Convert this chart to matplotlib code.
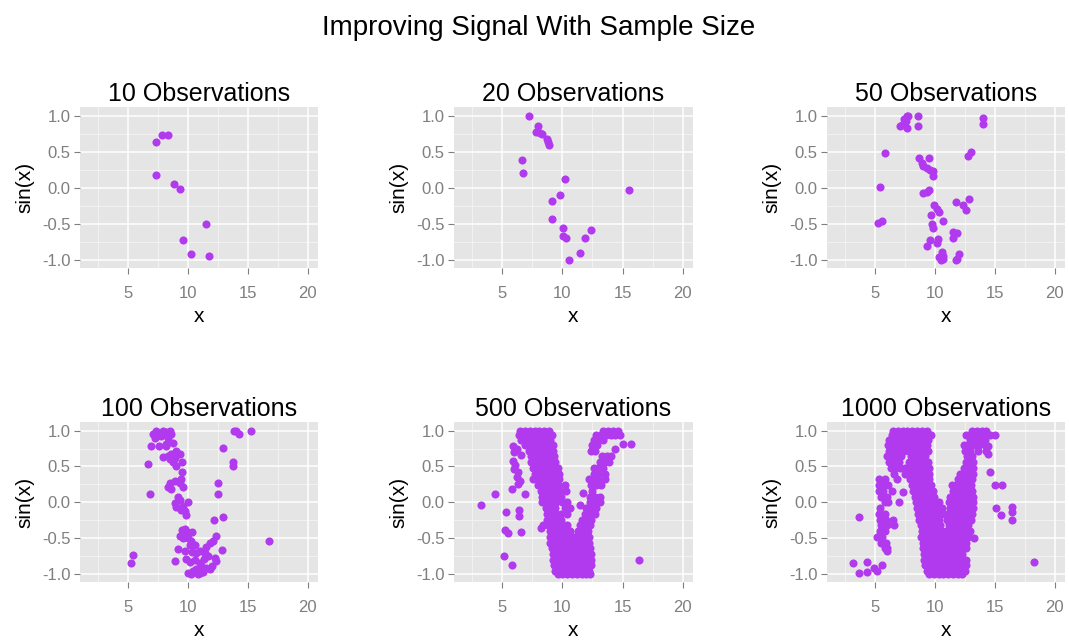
import numpy as np
import matplotlib; matplotlib.use("Agg")
import matplotlib.pyplot as plt

plt.rcParams["font.family"] = ["Liberation Sans", "DejaVu Sans"]
plt.rcParams["axes.unicode_minus"] = False

# -------- data --------
x10 = [7.36, 7.83, 8.33, 7.36, 8.83, 9.33, 11.47, 9.58, 10.22, 11.75]
y10 = [0.63, 0.73, 0.73, 0.18, 0.06, -0.01, -0.50, -0.72, -0.92, -0.94]

x20 = [7.22, 7.97, 7.78, 8.11, 8.33, 8.69, 8.81, 8.92, 6.61, 6.75, 10.25,
       9.81, 9.17, 9.17, 10.06, 10.06, 10.33, 12.36, 11.89, 11.44, 10.56, 15.56]
y20 = [1.0, 0.85, 0.78, 0.76, 0.74, 0.68, 0.63, 0.60, 0.39, 0.20, 0.12,
       -0.10, -0.18, -0.43, -0.55, -0.66, -0.70, -0.58, -0.70, -0.90, -1.0, -0.03]

x50 = [7.64, 7.44, 7.28, 7.08, 7.69, 7.58, 7.78, 8.61, 8.61, 14.03, 14.03,
       5.83, 5.42, 5.22, 5.61, 8.69, 8.89, 9.03, 9.31, 9.5, 9.58, 9.81, 9.81,
       9.03, 9.31, 9.53, 12.78, 13.0, 9.92, 10.14, 10.31, 9.64, 9.75, 9.86,
       10.69, 11.75, 12.36, 12.58, 12.86, 11.53, 11.81, 11.47, 10.28, 10.14,
       9.58, 9.31, 10.56, 10.69, 10.36, 10.5, 10.69, 12.03, 11.86, 11.75]
y50 = [1.0, 0.96, 0.87, 0.86, 0.83, 0.92, 0.99, 1.0, 0.86, 0.97, 0.89,
       0.48, 0.01, -0.49, -0.46, 0.41, 0.35, 0.30, 0.28, 0.41, 0.25, 0.23, 0.16,
       -0.07, -0.06, -0.03, 0.44, 0.49, -0.24, -0.29, -0.33, -0.37, -0.50, -0.56,
       -0.46, -0.19, -0.24, -0.30, -0.16, -0.61, -0.63, -0.69, -0.71, -0.76,
       -0.72, -0.80, -0.89, -0.94, -0.96, -1.0, -0.99, -0.92, -0.99, -1.0]

pts100 = [
    (7.08, 0.95), (7.36, 1.0), (7.58, 0.95), (7.92, 1.0), (8.19, 0.98), (8.47, 1.0),
    (8.61, 0.95), (8.33, 0.90), (8.75, 0.83), (8.19, 0.81), (7.78, 0.92), (7.22, 0.90),
    (6.94, 0.78), (7.58, 0.78), (8.19, 0.78),
    (7.92, 0.63), (8.33, 0.65), (8.61, 0.68), (9.03, 0.72), (8.89, 0.62), (8.75, 0.56),
    (9.03, 0.51), (9.31, 0.67), (9.53, 0.56), (8.53, 0.60),
    (6.68, 0.54), (6.82, 0.12),
    (9.53, 0.42), (9.44, 0.33), (9.31, 0.27), (8.89, 0.30), (8.47, 0.27), (8.33, 0.22),
    (8.61, 0.18), (9.58, 0.21),
    (9.17, 0.08), (9.31, 0.03), (8.89, -0.01), (9.03, -0.06), (9.58, -0.05), (10.0, 0.01),
    (9.44, -0.11), (9.86, -0.18), (9.72, -0.12),
    (12.96, 0.76), (13.82, 1.0), (14.03, 0.99), (14.3, 0.95), (15.28, 0.99),
    (13.74, 0.56), (13.74, 0.51), (12.48, 0.27), (12.48, 0.12), (12.96, -0.21),
    (12.2, -0.25), (16.76, -0.54), (5.39, -0.73), (5.25, -0.85),
    (9.53, -0.38), (9.72, -0.37), (9.92, -0.42), (10.36, -0.42), (9.31, -0.47),
    (9.58, -0.50), (10.0, -0.50), (10.28, -0.54), (10.56, -0.59), (10.14, -0.60),
    (9.17, -0.65), (9.72, -0.68), (10.36, -0.69), (10.69, -0.70), (10.97, -0.68),
    (11.47, -0.62), (11.81, -0.57), (12.08, -0.54), (12.36, -0.47), (9.81, -0.79),
    (8.89, -0.82), (10.14, -0.83), (10.56, -0.80), (10.97, -0.85), (11.31, -0.79),
    (11.67, -0.75), (11.39, -0.70), (12.36, -0.82), (12.03, -0.89), (11.81, -0.93),
    (10.0, -0.98), (10.42, -0.95), (10.69, -0.93), (10.97, -0.98), (11.25, -0.97),
    (11.53, -0.92), (10.28, -1.0), (10.83, -1.0), (11.11, -0.89), (12.83, -0.66),
    (12.22, -0.77),
]

# dense panels: rows of points sharing roughly the same sin(x) level
rows500 = [
    (1.00, [6.5, 6.9, 7.3, 7.7, 8.1, 8.5, 8.9, 13.4, 13.8, 14.2, 14.6]),
    (0.94, [6.4, 6.8, 7.2, 7.6, 8.0, 8.4, 8.8, 9.1, 12.8, 13.2, 13.6, 14.0, 14.4, 14.8]),
    (0.87, [6.6, 7.0, 7.4, 7.8, 8.2, 8.6, 9.0, 12.6, 13.0, 13.4]),
    (0.80, [6.9, 7.3, 7.7, 8.1, 8.5, 8.9, 9.2, 12.5, 12.9]),
    (0.72, [7.2, 7.6, 8.0, 8.4, 8.8, 9.2, 12.4, 12.7]),
    (0.64, [7.4, 7.8, 8.2, 8.6, 9.0, 9.3, 13.3, 13.7, 14.0]),
    (0.56, [7.4, 7.8, 8.2, 8.6, 9.0, 9.4, 13.1, 13.5, 13.9]),
    (0.48, [7.6, 8.0, 8.4, 8.8, 9.2, 9.6, 12.6, 13.0, 13.4]),
    (0.40, [7.7, 8.1, 8.5, 8.9, 9.3, 9.7, 12.6, 13.0, 13.5]),
    (0.32, [7.6, 8.0, 8.4, 8.8, 9.2, 9.7, 12.2, 12.6, 13.0, 13.5]),
    (0.24, [8.0, 8.4, 8.8, 9.2, 9.6, 10.2, 12.4, 12.8, 13.2]),
    (0.16, [8.2, 8.6, 9.0, 9.4, 9.8, 10.3, 12.5]),
    (0.08, [8.3, 8.7, 9.1, 9.5, 9.9, 12.3, 12.7, 13.1]),
    (0.00, [8.3, 8.7, 9.1, 9.5, 10.0, 10.4, 12.3, 12.7, 13.1]),
    (-0.08, [8.6, 9.0, 9.4, 10.2, 10.6, 12.0, 12.4, 12.8]),
    (-0.16, [8.7, 9.1, 9.5, 9.9, 10.4, 11.9, 12.3, 12.7]),
    (-0.24, [8.7, 9.1, 9.5, 9.9, 11.6, 12.0, 12.4]),
    (-0.32, [8.8, 9.2, 9.6, 10.0, 10.4, 11.5, 11.9, 12.3]),
    (-0.40, [9.0, 9.4, 9.8, 10.2, 10.6, 11.3, 11.7, 12.1]),
    (-0.48, [9.0, 9.4, 9.8, 10.2, 10.6, 11.0, 11.5, 11.9, 12.2]),
    (-0.56, [9.0, 9.4, 9.8, 10.2, 10.6, 11.0, 11.4, 11.8, 12.2]),
    (-0.64, [9.1, 9.5, 9.9, 10.3, 10.7, 11.1, 11.5, 11.9, 12.3]),
    (-0.72, [9.2, 9.6, 10.0, 10.4, 10.8, 11.2, 11.6, 12.0, 12.4]),
    (-0.80, [9.2, 9.6, 10.0, 10.4, 10.8, 11.2, 11.6, 12.0, 12.4]),
    (-0.88, [9.3, 9.7, 10.1, 10.5, 10.9, 11.3, 11.7, 12.1, 12.4]),
    (-0.96, [9.4, 9.8, 10.2, 10.6, 11.0, 11.4, 11.8, 12.2]),
    (-1.00, [9.6, 10.0, 10.4, 10.8, 11.2, 11.6, 12.0, 12.3]),
]
x500_extra = [5.9, 6.2, 6.6, 5.95, 5.9, 6.1, 6.0, 6.3, 6.2, 6.5, 6.3, 3.25, 4.4, 5.35,
              6.4, 6.4, 5.2, 5.45, 6.6, 5.15, 5.8, 5.8, 6.9, 8.2, 8.4, 16.35, 11.45,
              11.75, 15.0, 15.7, 14.4]
y500_extra = [0.78, 0.74, 0.66, 0.70, 0.58, 0.52, 0.47, 0.42, 0.36, 0.30, 0.26, -0.04,
              0.12, -0.13, -0.10, -0.19, -0.38, -0.43, -0.41, -0.75, -0.88, 0.19, 0.12,
              -0.36, -0.31, -0.81, -0.03, 0.13, 0.81, 0.81, 0.74]

rows1000 = [
    (1.00, [6.5, 6.9, 7.3, 7.7, 8.1, 8.5, 8.9, 9.3, 13.1, 13.5, 13.9, 14.3]),
    (0.94, [6.4, 6.8, 7.2, 7.6, 8.0, 8.4, 8.8, 9.2, 9.7, 12.6, 13.0, 13.4, 13.8, 14.2, 14.6, 15.0]),
    (0.87, [6.2, 6.6, 7.0, 7.4, 7.8, 8.2, 8.6, 9.0, 9.4, 12.9, 13.3, 13.7, 14.2]),
    (0.80, [6.1, 6.5, 6.9, 7.3, 7.7, 8.1, 8.5, 8.9, 9.3, 12.4, 12.8, 13.3, 13.7, 14.2]),
    (0.72, [6.2, 6.6, 7.0, 7.4, 7.8, 8.2, 8.6, 9.0, 9.4, 12.5, 12.9, 13.6, 14.3]),
    (0.64, [6.0, 6.4, 6.8, 7.2, 8.0, 8.4, 8.8, 9.2, 12.7, 13.1]),
    (0.56, [6.2, 6.6, 7.0, 7.8, 8.2, 8.6, 9.0, 9.4, 12.6, 13.0, 13.2]),
    (0.48, [6.3, 6.7, 7.1, 7.5, 7.9, 8.3, 8.7, 9.1, 9.5, 12.4, 12.8, 13.2]),
    (0.40, [6.6, 7.5, 7.9, 8.3, 8.7, 9.1, 9.5, 12.1, 12.5, 12.9, 13.2]),
    (0.32, [5.3, 5.8, 6.8, 7.9, 8.3, 8.7, 9.1, 9.5, 11.9, 12.3, 12.7, 13.1]),
    (0.24, [5.3, 5.7, 6.1, 8.1, 8.5, 8.9, 9.3, 9.7, 11.4, 11.8, 12.2, 12.6, 13.0]),
    (0.16, [5.3, 5.7, 6.4, 8.2, 8.6, 9.0, 9.4, 9.8, 11.5, 11.9, 12.3, 12.7, 13.1]),
    (0.08, [5.5, 6.0, 8.3, 8.7, 9.1, 9.5, 9.9, 11.3, 11.7, 12.1, 12.5, 12.9, 13.2]),
    (0.00, [5.8, 6.1, 7.0, 8.4, 8.8, 9.2, 9.6, 10.0, 10.3, 11.2, 11.6, 12.0, 12.4, 12.8, 13.2]),
    (-0.08, [5.4, 8.5, 8.9, 9.3, 9.7, 10.1, 10.6, 11.3, 11.7, 12.1, 12.5, 12.9, 13.2]),
    (-0.16, [5.3, 5.8, 8.6, 9.0, 9.4, 9.8, 10.2, 10.6, 11.0, 11.5, 11.9, 12.3, 12.7, 13.1]),
    (-0.24, [5.4, 5.9, 6.5, 8.7, 9.1, 9.5, 9.9, 10.3, 11.0, 11.4, 11.8, 12.2, 12.6, 13.0]),
    (-0.32, [5.5, 6.0, 6.6, 8.8, 9.2, 9.6, 10.0, 10.4, 11.2, 11.6, 12.0, 12.4, 12.8]),
    (-0.40, [5.4, 5.8, 8.9, 9.3, 9.7, 10.1, 10.5, 10.9, 11.3, 11.7, 12.1, 12.5, 12.9]),
    (-0.48, [5.2, 5.6, 8.8, 9.2, 9.6, 10.0, 10.4, 10.8, 11.2, 11.6, 12.0, 12.4, 12.8]),
    (-0.56, [5.5, 5.9, 9.0, 9.4, 9.8, 10.2, 10.6, 11.0, 11.4, 11.8, 12.2, 12.6]),
    (-0.64, [5.8, 6.0, 9.0, 9.4, 9.8, 10.2, 10.6, 11.0, 11.4, 11.8, 12.2, 12.6]),
    (-0.72, [9.1, 9.5, 9.9, 10.3, 10.7, 11.1, 11.5, 11.9, 12.3]),
    (-0.80, [9.1, 9.5, 9.9, 10.3, 10.7, 11.1, 11.5, 11.9, 12.3, 12.6]),
    (-0.88, [9.2, 9.6, 10.0, 10.4, 10.8, 11.2, 11.6, 12.0, 12.4, 12.6]),
    (-0.96, [9.3, 9.7, 10.1, 10.5, 10.9, 11.3, 11.7, 12.1, 12.5]),
    (-1.00, [9.5, 9.9, 10.3, 10.7, 11.1, 11.5, 11.9, 12.3]),
]
x1000_extra = [3.15, 3.65, 4.35, 4.35, 4.9, 5.55, 5.2, 3.7, 6.0, 7.3, 14.6, 15.0, 15.6,
               15.1, 15.5, 16.4, 16.4, 16.4, 18.3, 14.4, 13.3, 14.4]
y1000_extra = [-0.85, -0.98, -0.83, -0.97, -0.91, -0.88, -0.95, -0.21, -0.68, 0.15, 0.43,
               0.24, 0.24, -0.08, -0.18, -0.06, -0.13, -0.24, -0.83, 0.79, -0.49, 0.67]

titles = ["10 Observations", "20 Observations", "50 Observations",
          "100 Observations", "500 Observations", "1000 Observations"]


def from_rows(rows, xe, ye):
    xs = [x for y, row in rows for x in row] + list(xe)
    ys = [y for y, row in rows for _ in row] + list(ye)
    return xs, ys


x100, y100 = [p[0] for p in pts100], [p[1] for p in pts100]
x500, y500 = from_rows(rows500, x500_extra, y500_extra)
x1000, y1000 = from_rows(rows1000, x1000_extra, y1000_extra)
series = [(x10, y10), (x20, y20), (x50, y50), (x100, y100), (x500, y500), (x1000, y1000)]

# -------- layout (pixel boxes of the panels) --------
W, H = 1069, 641
cols = [(80, 318), (454, 693), (827, 1065)]
rows = [(107, 268), (422, 582)]

fig = plt.figure(figsize=(W / 100, H / 100), dpi=100)
fig.text(539 / W, 1 - 28 / H, "Improving Signal With Sample Size",
         ha="center", va="center", fontsize=20)

for i, (xs, ys) in enumerate(series):
    l, r = cols[i % 3]
    t, b = rows[i // 3]
    ax = fig.add_axes([l / W, 1 - b / H, (r - l) / W, (b - t) / H])
    ax.set_facecolor("#E5E5E5")
    for s in ax.spines.values():
        s.set_visible(False)
    ax.set_xlim(1.0, 20.85)
    ax.set_ylim(-1.11, 1.12)
    for v in [2.5, 7.5, 12.5, 17.5]:
        ax.axvline(v, color="#F2F2F2", lw=0.7, zorder=0)
    for v in [-0.75, -0.25, 0.25, 0.75]:
        ax.axhline(v, color="#F2F2F2", lw=0.7, zorder=0)
    for v in [5, 10, 15, 20]:
        ax.axvline(v, color="white", lw=1.1, zorder=0)
    for v in [-1, -0.5, 0, 0.5, 1]:
        ax.axhline(v, color="white", lw=1.1, zorder=0)
    ax.scatter(xs, ys, s=34, color="#B23AEE", linewidths=0, zorder=3)
    ax.set_xticks([5, 10, 15, 20])
    ax.set_yticks([-1, -0.5, 0, 0.5, 1])
    ax.set_yticklabels(["-1.0", "-0.5", "0.0", "0.5", "1.0"])
    ax.tick_params(colors="#7F7F7F", labelsize=12, length=4, width=0.8)
    ax.tick_params(axis="x", pad=9)
    ax.tick_params(axis="y", pad=3)
    ax.set_xlabel("x", fontsize=15, labelpad=4)
    ax.set_ylabel("sin(x)", fontsize=15, labelpad=5)
    ax.set_title(titles[i], fontsize=18, pad=4)

fig.savefig("out.png")
